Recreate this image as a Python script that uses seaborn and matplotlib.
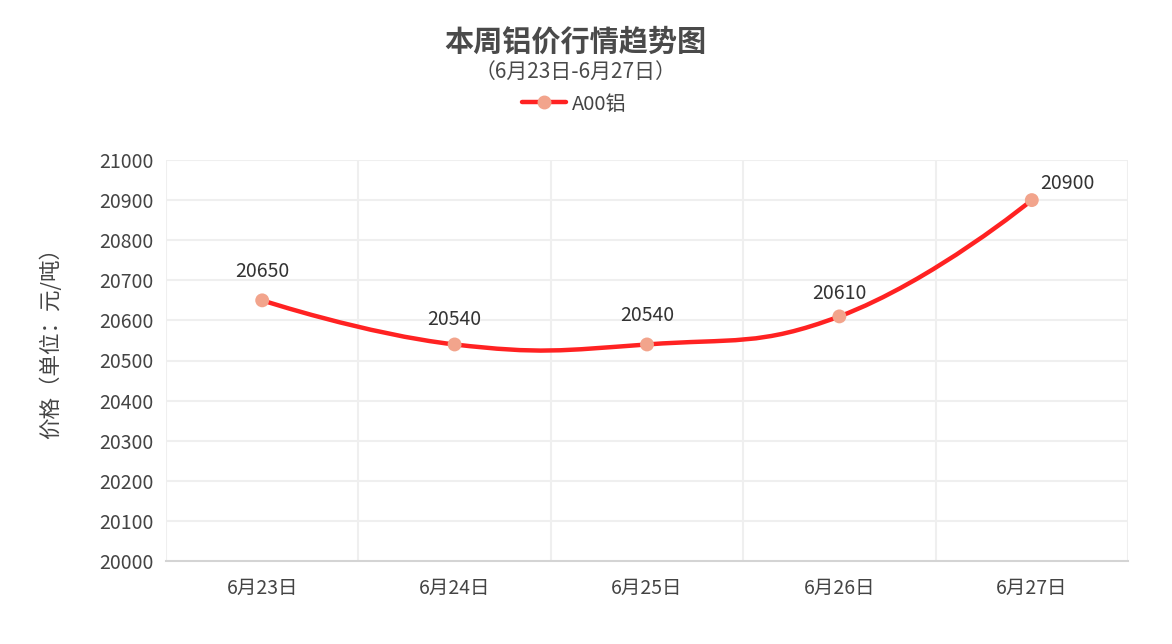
import numpy as np
import pandas as pd
import matplotlib
matplotlib.use("Agg")
import matplotlib.pyplot as plt
from matplotlib.path import Path
from matplotlib.patches import PathPatch
from matplotlib.lines import Line2D
import seaborn as sns

# Data
dates = ["6月23日", "6月24日", "6月25日", "6月26日", "6月27日"]
prices = [20650, 20540, 20540, 20610, 20900]
series_name = "A00铝"
y_ticks = list(range(20000, 21001, 100))

df = pd.DataFrame({"date": dates, "price": prices, "idx": range(len(dates))})

sns.set_theme(style="white")
plt.rcParams["font.family"] = ["Noto Sans CJK SC", "DejaVu Sans"]

fig = plt.figure(figsize=(11.72, 6.44), dpi=100)
ax = fig.add_axes([166 / 1172, 83 / 644, 962 / 1172, 401 / 644])

line_color = "#ff2222"
marker_color = "#f2a48c"
text_color = "#444444"

# smooth curve (echarts style bezier), control points in pixel space
sx = 962 / 5
sy = 401 / 1000
pts = np.array([[i * sx, (p - 20000) * sy] for i, p in enumerate(prices)])
smooth = 0.45
n = len(pts)
verts = [tuple(pts[0])]
codes = [Path.MOVETO]
cps = []
for i in range(n):
    if i == 0 or i == n - 1:
        cps.append((pts[i], pts[i]))
        continue
    v = pts[i + 1] - pts[i - 1]
    d0 = np.linalg.norm(pts[i] - pts[i - 1])
    d1 = np.linalg.norm(pts[i + 1] - pts[i])
    r = d0 / (d0 + d1)
    cps.append((pts[i] - v * smooth * r, pts[i] + v * smooth * (1 - r)))
for i in range(n - 1):
    verts += [tuple(cps[i][1]), tuple(cps[i + 1][0]), tuple(pts[i + 1])]
    codes += [Path.CURVE4] * 3
verts = [(x / sx, y / sy + 20000) for x, y in verts]
ax.add_patch(PathPatch(Path(verts, codes), fill=False, edgecolor=line_color,
                       lw=3.2, capstyle="round", joinstyle="round", zorder=3))

sns.scatterplot(data=df, x="idx", y="price", color=marker_color, s=100,
                edgecolor="none", zorder=4, ax=ax, legend=False)

# value labels
label_offsets = [(0, 29), (0, 25), (0, 29), (0, 23), (36, 17)]
for (i, p), (dx, dy) in zip(enumerate(prices), label_offsets):
    ax.annotate(str(p), (i, p), xytext=(dx * 0.72, dy * 0.72), textcoords="offset points",
                ha="center", va="center", fontsize=14, color="#333333")

ax.set_xlim(-0.5, 4.5)
ax.set_ylim(20000, 21000)
ax.set_yticks(y_ticks)
ax.set_xticks(range(len(dates)))
ax.set_xticklabels(dates)
ax.tick_params(axis="both", length=0, labelsize=14, colors=text_color)
ax.tick_params(axis="y", pad=9)
ax.tick_params(axis="x", pad=12)
ax.set_xlabel("")
ax.set_ylabel("价格（单位：元/吨）", fontsize=15.5, color=text_color)
ax.yaxis.set_label_coords(-104 / 962, 223 / 401)

grid_c = "#efefef"
for y in y_ticks[1:]:
    ax.axhline(y, color=grid_c, lw=1.5, zorder=0)
for x in np.arange(-0.5, 5, 1.0):
    ax.axvline(x, color=grid_c, lw=1.5, zorder=0)
for s in ["top", "right", "left"]:
    ax.spines[s].set_visible(False)
ax.spines["bottom"].set_color("#d4d4d4")
ax.spines["bottom"].set_linewidth(1.5)

fig.text(575 / 1172, 1 - 42 / 644, "本周铝价行情趋势图", ha="center", va="center",
         fontsize=21, fontweight="bold", color="#4a4a4a")
fig.text(575 / 1172, 1 - 72 / 644, "（6月23日-6月27日）", ha="center", va="center",
         fontsize=15, color="#4a4a4a")

handle = Line2D([0], [0], color=line_color, lw=3.2, marker="o", markersize=9,
                markerfacecolor=marker_color, markeredgecolor=marker_color)
fig.legend([handle], [series_name], loc="center", bbox_to_anchor=(574 / 1172, 1 - 104 / 644),
           frameon=False, fontsize=14.5, handlelength=2.2, handletextpad=0.3,
           labelcolor=text_color)

fig.savefig("out.png", dpi=100)
